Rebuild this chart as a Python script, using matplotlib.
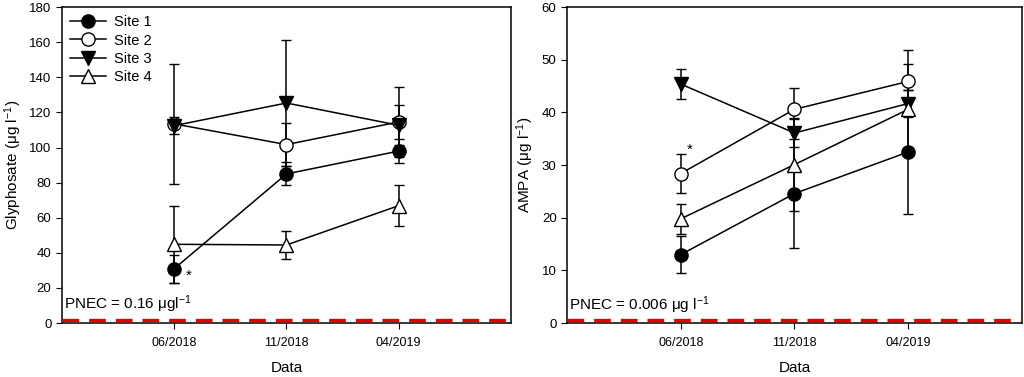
import numpy as np
import matplotlib
matplotlib.use("Agg")
import matplotlib.pyplot as plt
from matplotlib.lines import Line2D

plt.rcParams['font.family'] = ['Liberation Sans', 'DejaVu Sans']
plt.rcParams['mathtext.default'] = 'regular'

dates = ['06/2018', '11/2018', '04/2019']
sites = ['Site 1', 'Site 2', 'Site 3', 'Site 4']

# Glyphosate (ug/l): mean and error per site
gly_mean = [[31, 85, 98], [113.5, 101.7, 114.6], [112.5, 125.4, 112.7], [44.9, 44.5, 66.9]]
gly_err = [[8, 6.5, 7], [34, 12.3, 20], [5, 36, 11.4], [22, 8.2, 11.5]]

# AMPA (ug/l)
ampa_mean = [[13.0, 24.6, 32.5], [28.4, 40.6, 45.9], [45.4, 36.1, 41.7], [19.8, 30.1, 40.6]]
ampa_err = [[3.5, 10.3, 11.7], [3.7, 4.1, 5.9], [2.8, 2.6, 2.5], [2.8, 8.9, 8.7]]

markers = ['o', 'o', 'v', '^']
faces = ['black', 'white', 'black', 'white']

fig = plt.figure(figsize=(10.24, 3.77), dpi=100)
ax1 = fig.add_axes([0.0605, 0.143, 0.4385, 0.838])
ax2 = fig.add_axes([0.5537, 0.143, 0.4443, 0.838])

x = np.arange(1, len(dates) + 1)

def draw(ax, means, errs, ymax, ystep, ylabel, pnec_y, pnec_text):
    for i in range(len(sites)):
        ax.errorbar(x, means[i], yerr=errs[i], color='black', lw=1.1,
                    marker=markers[i], mfc=faces[i], mec='black', ms=9.5,
                    mew=1.0, capsize=3.8, capthick=1.1, elinewidth=1.1,
                    zorder=3)
    ax.axhline(pnec_y, color='#e00000', lw=2.4, dashes=(5, 3), zorder=4)
    ax.text(0.02, pnec_y + ymax * 0.013, pnec_text, fontsize=11, va='bottom')
    ax.set_xlim(0, 4)
    ax.set_ylim(0, ymax)
    ax.set_xticks(x)
    ax.set_xticklabels(dates, fontsize=9)
    ax.set_yticks(np.arange(0, ymax + 1, ystep))
    ax.tick_params(axis='y', labelsize=9.5, direction='out', length=4)
    ax.tick_params(axis='x', direction='out', length=4, pad=6)
    ax.set_xlabel('Data', fontsize=11, labelpad=9)
    ax.set_ylabel(ylabel, fontsize=11)
    for s in ax.spines.values():
        s.set_linewidth(1.1)

draw(ax1, gly_mean, gly_err, 180, 20, r'Glyphosate ($\mu$g l$^{-1}$)', 2,
     r'PNEC = 0.16 $\mu$gl$^{-1}$')
draw(ax2, ampa_mean, ampa_err, 60, 10, r'AMPA ($\mu$g l$^{-1}$)', 0.6,
     r'PNEC = 0.006 $\mu$g l$^{-1}$')

ax1.text(1.13, 27, '*', fontsize=11, ha='center', va='center')
ax2.text(1.08, 33, '*', fontsize=11, ha='center', va='center')

handles = [Line2D([], [], color='black', lw=1.1, marker=markers[i], mfc=faces[i],
                  mec='black', ms=9.5, mew=1.0) for i in range(len(sites))]
ax1.legend(handles, sites, loc='upper left', frameon=False, fontsize=10.5,
           handlelength=2.5, borderaxespad=0.15, labelspacing=0.3,
           handletextpad=0.5)

fig.savefig('out.png', dpi=100)
